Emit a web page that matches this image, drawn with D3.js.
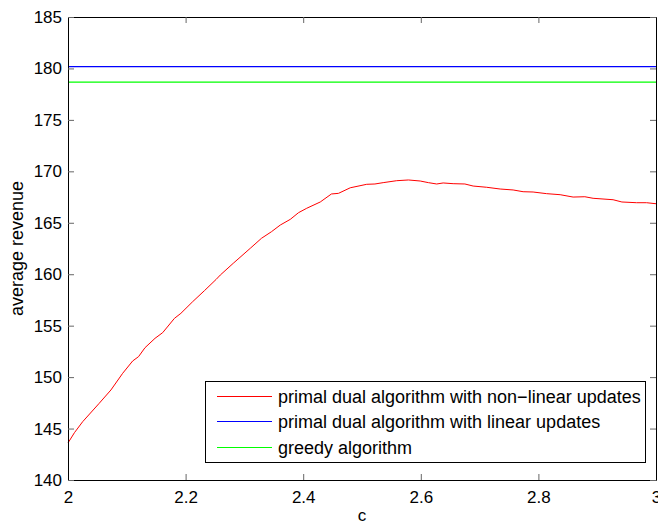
<!DOCTYPE html>
<html>
<head>
<meta charset="utf-8">
<script src="https://cdn.jsdelivr.net/npm/d3@7"></script>
<style>
  body { margin: 0; background: #fff; }
  text { font-family: "Liberation Sans", Arial, Helvetica, sans-serif; }
</style>
</head>
<body>
<script>
var width = 658, height = 523;
var margin = {left: 68, top: 17, right: 656, bottom: 480};

// c values and average revenue of the non-linear primal dual algorithm
var cValues = [
  2.000, 2.011, 2.025, 2.053, 2.073, 2.093, 2.110, 2.120, 2.131, 2.148,
  2.161, 2.181, 2.192, 2.212, 2.232, 2.252, 2.259, 2.281, 2.310, 2.329,
  2.346, 2.361, 2.378, 2.392, 2.406, 2.429, 2.448, 2.460, 2.480, 2.508,
  2.522, 2.536, 2.559, 2.579, 2.599, 2.613, 2.627, 2.638, 2.655, 2.675,
  2.689, 2.712, 2.735, 2.757, 2.774, 2.791, 2.814, 2.837, 2.859, 2.879,
  2.893, 2.927, 2.942, 2.967, 2.984, 3.000
];
var nonLinear = [
  143.6, 144.6, 145.67, 147.45, 148.75, 150.37, 151.57, 151.99, 152.86, 153.77,
  154.32, 155.71, 156.2, 157.33, 158.4, 159.5, 159.92, 161.06, 162.52, 163.49,
  164.13, 164.78, 165.33, 165.98, 166.41, 167.02, 167.80, 167.86, 168.40, 168.74,
  168.77, 168.90, 169.09, 169.16, 169.06, 168.90, 168.77, 168.87, 168.80, 168.77,
  168.57, 168.45, 168.28, 168.19, 168.02, 167.99, 167.83, 167.73, 167.50, 167.53,
  167.38, 167.24, 167.02, 166.95, 166.95, 166.85
];
// the two flat series
var flatC = [2, 3];
var linearUpdates = [180.17, 180.17];
var greedy = [178.68, 178.68];

var xTicks = [2, 2.2, 2.4, 2.6, 2.8, 3];
var yTicks = [140, 145, 150, 155, 160, 165, 170, 175, 180, 185];

var seriesNames = [
  "primal dual algorithm with non\u2212linear updates",
  "primal dual algorithm with linear updates",
  "greedy algorithm"
];
var seriesColors = ["#ff0000", "#0000ff", "#00ff00"];

var x = d3.scaleLinear().domain([2, 3]).range([margin.left, margin.right]);
var y = d3.scaleLinear().domain([140, 185]).range([margin.bottom, margin.top]);

var svg = d3.select('body').append('svg').attr('width', width).attr('height', height);

var line = d3.line()
    .x(function (d) { return x(d[0]) })
    .y(function (d) { return y(d[1]) });

svg.append('path')
    .datum(d3.zip(cValues, nonLinear))
    .attr('d', line)
    .attr('fill', 'none')
    .attr('stroke', seriesColors[0])
    .attr('stroke-width', 1);

svg.append('path')
    .datum(d3.zip(flatC, linearUpdates))
    .attr('d', line)
    .attr('fill', 'none')
    .attr('stroke', seriesColors[1])
    .attr('stroke-width', 1.2);

svg.append('path')
    .datum(d3.zip(flatC, greedy))
    .attr('d', line)
    .attr('fill', 'none')
    .attr('stroke', seriesColors[2])
    .attr('stroke-width', 1.2);

// axes, ticks point inward like matlab
function styleAxis(g) {
    g.select('.domain').attr('stroke', '#000').attr('stroke-width', 1);
    g.selectAll('.tick line').attr('stroke', '#666');
    g.selectAll('text').attr('fill', '#000').attr('font-size', 17)
        .attr('font-family', '"Liberation Sans", Arial, sans-serif');
}

svg.append('g')
    .attr('transform', 'translate(0,' + margin.bottom + ')')
    .call(d3.axisBottom(x).tickValues(xTicks).tickSizeInner(-6).tickSizeOuter(0).tickPadding(11)
        .tickFormat(d3.format('')))
    .call(styleAxis);

svg.append('g')
    .attr('transform', 'translate(0,' + margin.top + ')')
    .call(d3.axisTop(x).tickValues(xTicks).tickSizeInner(-6).tickSizeOuter(0).tickFormat(''))
    .call(styleAxis);

svg.append('g')
    .attr('transform', 'translate(' + margin.left + ',0)')
    .call(d3.axisLeft(y).tickValues(yTicks).tickSizeInner(-6).tickSizeOuter(0).tickPadding(6))
    .call(styleAxis);

svg.append('g')
    .attr('transform', 'translate(' + margin.right + ',0)')
    .call(d3.axisRight(y).tickValues(yTicks).tickSizeInner(-6).tickSizeOuter(0).tickFormat(''))
    .call(styleAxis);

// axis labels
svg.append('text')
    .attr('x', (margin.left + margin.right) / 2)
    .attr('y', 521)
    .attr('text-anchor', 'middle')
    .attr('font-size', 17)
    .text('c');

svg.append('text')
    .attr('transform', 'translate(23,' + (margin.top + margin.bottom) / 2 + ') rotate(-90)')
    .attr('text-anchor', 'middle')
    .attr('font-size', 18)
    .text('average revenue');

// legend
var legend = svg.append('g').attr('class', 'legend');
legend.append('rect')
    .attr('x', 205.5).attr('y', 381.5)
    .attr('width', 440).attr('height', 81)
    .attr('fill', '#fff')
    .attr('stroke', '#000')
    .attr('stroke-width', 1);

var rows = [396.5, 421.5, 447.5];
legend.selectAll('line.key')
    .data(seriesNames)
    .enter()
    .append('line')
    .attr('class', 'key')
    .attr('x1', 217).attr('x2', 272)
    .attr('y1', function (d, i) { return rows[i] })
    .attr('y2', function (d, i) { return rows[i] })
    .attr('stroke', function (d, i) { return seriesColors[i] })
    .attr('stroke-width', 1);

legend.selectAll('text.key')
    .data(seriesNames)
    .enter()
    .append('text')
    .attr('class', 'key')
    .attr('x', 278)
    .attr('y', function (d, i) { return rows[i] })
    .attr('dy', '0.35em')
    .attr('font-size', 18)
    .text(function (d) { return d });
</script>
</body>
</html>
